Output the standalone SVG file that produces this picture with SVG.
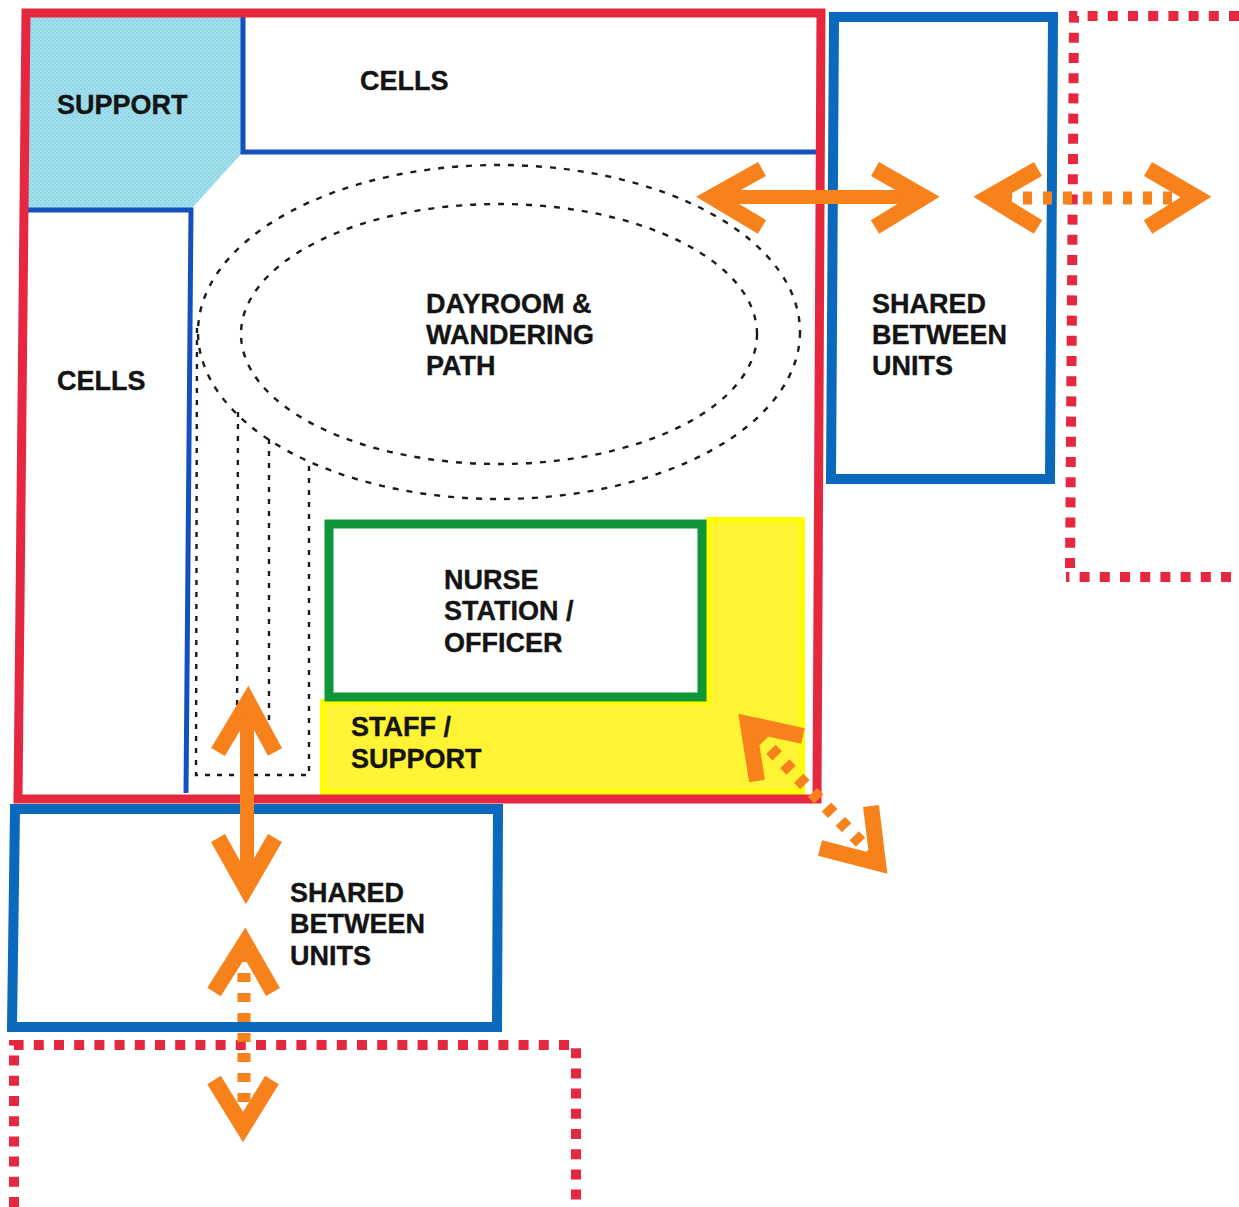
<svg xmlns="http://www.w3.org/2000/svg" width="1239" height="1207" viewBox="0 0 1239 1207">
<style>
text{font-family:"Liberation Sans",Arial,sans-serif;font-weight:700;font-size:27px;fill:#141414;stroke:#141414;stroke-width:.35}
.red{fill:none;stroke:#e5283f;stroke-width:9;stroke-linejoin:miter}
.blue{fill:none;stroke:#0a68bd;stroke-width:10;stroke-linejoin:miter}
.thin{fill:none;stroke:#1450c0;stroke-width:5}
.rdot{fill:none;stroke:#e5283f;stroke-width:10;stroke-dasharray:10 10.2}
.blk{fill:none;stroke:#1a1a1a;stroke-width:2.4;stroke-dasharray:6 8}
.dot{fill:none;stroke:#1a1a1a;stroke-width:2.4;stroke-dasharray:5 7}
.ar{fill:none;stroke:#f7821b;stroke-width:16;stroke-miterlimit:10}
.sh{fill:none;stroke:#f7821b;stroke-width:14}
.ad{fill:none;stroke:#f7821b;stroke-width:13;stroke-dasharray:9 11}
</style>
<defs><pattern id="screen" width="4" height="4" patternUnits="userSpaceOnUse"><rect width="4" height="4" fill="#a6deec"/><circle cx="1" cy="1" r="1" fill="#7fd4e6"/><circle cx="3" cy="3" r="1" fill="#8fd8e8"/></pattern></defs>
<g id="support"><polygon points="29,17 243,17 243,152 192,208 27,208" fill="url(#screen)"/><text x="57" y="114">SUPPORT</text></g>
<g id="staff-support"><polygon points="706,517 805,517 805,795 320,795 320,699 706,699" fill="#ffff00"/><polygon points="712,523 799,523 799,789 326,789 326,705 712,705" fill="#fff335"/><text x="351" y="736">STAFF /</text><text x="351" y="768">SUPPORT</text></g>
<g id="nurse-station"><rect x="329" y="524" width="373" height="173" fill="#fff" stroke="#0f9639" stroke-width="9"/><text x="444" y="589">NURSE</text><text x="444" y="620">STATION /</text><text x="444" y="652">OFFICER</text></g>
<g id="cells-top"><path class="thin" d="M243 17V152H817"/><text x="360" y="90">CELLS</text></g>
<g id="cells-left"><path class="thin" d="M22 210H191L186 793"/><text x="57" y="390">CELLS</text></g>
<g id="dayroom"><ellipse class="blk" cx="499" cy="332" rx="301" ry="167"/><ellipse class="blk" cx="499" cy="334" rx="258" ry="130"/><text x="426" y="313">DAYROOM &amp;</text><text x="426" y="344">WANDERING</text><text x="426" y="375">PATH</text></g>
<g id="corridor"><path class="dot" d="M197 328L196 775H309L309 462M238 412L237 730H269L269 437"/></g>
<g id="unit"><polygon class="red" points="26,13 821,13 817,799 18,799"/></g>
<g id="shared-right"><polygon class="blue" points="834,17 1053,17 1050,479 831,479"/><text x="872" y="313">SHARED</text><text x="872" y="344">BETWEEN</text><text x="872" y="375">UNITS</text></g>
<g id="shared-bottom"><polygon class="blue" points="15,809 498,809 497,1027 12,1027"/><text x="290" y="902">SHARED</text><text x="290" y="933">BETWEEN</text><text x="290" y="965">UNITS</text></g>
<g id="unit-right"><path class="rdot" d="M1239 16H1074L1070 572"/><path class="rdot" d="M1231 577H1066"/></g>
<g id="unit-bottom"><path class="rdot" d="M14 1207L14 1045H576V1207"/></g>
<g id="connectors">
<path class="sh" d="M720 197H920"/>
<path class="ar" d="M762 169L712 197L762 227M875 169L924 197L875 227"/>
<path class="sh" d="M247 708V888"/>
<path class="ar" d="M218 752L248 702L275 752M218 838L246 888L275 838"/>
<path class="ar" d="M1038 169L989 197L1038 227M1148 169L1196 197L1148 227"/>
<path class="ad" d="M1003 198H1190"/>
<path class="ar" d="M214 992L245 943L273 992M214 1080L243 1127L272 1080"/>
<path class="ad" d="M244 953V1112"/>
<path class="ar" d="M803 736L748 724L757 781M820 848L878 863L871 806"/>
<path class="ad" d="M757 735L870 852"/>
</g>
</svg>
